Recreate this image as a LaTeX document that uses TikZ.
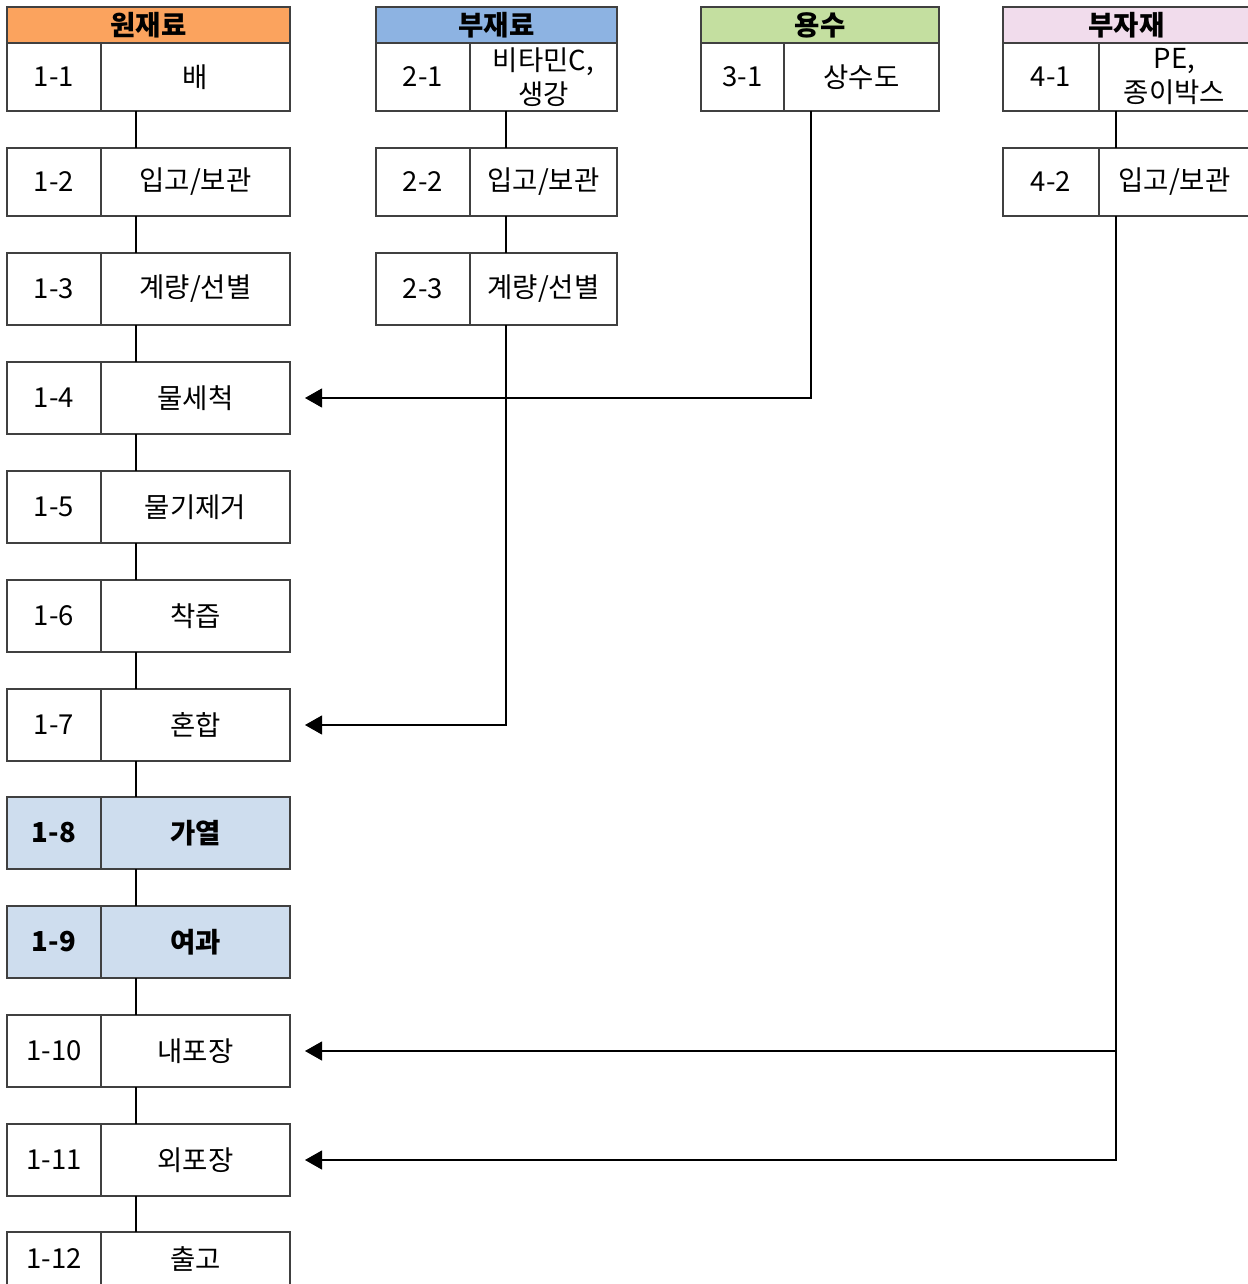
\documentclass[tikz,border=0pt]{standalone}
\usepackage{fontspec}
\setmainfont{Noto Sans CJK KR}
\usetikzlibrary{arrows.meta}
\definecolor{rawcol}{HTML}{FBA35E}
\definecolor{subcol}{HTML}{8DB3E2}
\definecolor{watercol}{HTML}{C4DFA0}
\definecolor{packcol}{HTML}{F1DCEC}
\definecolor{heatcol}{HTML}{CEDDEE}
\tikzset{
  cell/.style={draw=black!75, line width=1.2pt, inner sep=0pt, outer sep=0pt,
    anchor=north west, align=center, font=\fontsize{27.5}{34}\selectfont},
  head/.style={cell, font=\fontsize{27.5}{34}\selectfont\bfseries, minimum height=36pt},
  link/.style={line width=1.1pt},
  feed/.style={link, -{Triangle[width=19pt,length=17pt]}}
}
\begin{document}
\begin{tikzpicture}[x=1pt,y=-1pt]
    \useasboundingbox (0,0) rectangle (1247,1284);
    % Column headers
    \node[head, fill=rawcol, minimum width=283pt] (h1) at (7,7) {원재료};
    \node[head, fill=subcol, minimum width=241pt] (h2) at (376,7) {부재료};
    \node[head, fill=watercol, minimum width=238pt] (h3) at (701,7) {용수};
    \node[head, fill=packcol, minimum width=247pt] (h4) at (1003,7) {부자재};
    % Main process line
    \foreach \i/\rowy/\rowh/\txt/\f/\w in {1/43/68/배/white/\mdseries,
            2/148/68/{입고/보관}/white/\mdseries, 3/253/72/{계량/선별}/white/\mdseries,
            4/362/72/물세척/white/\mdseries, 5/471/72/물기제거/white/\mdseries,
            6/580/72/착즙/white/\mdseries, 7/689/72/혼합/white/\mdseries,
            8/797/72/가열/heatcol/\bfseries, 9/906/72/여과/heatcol/\bfseries,
            10/1015/72/내포장/white/\mdseries, 11/1124/72/외포장/white/\mdseries,
            12/1232/54/출고/white/\mdseries} {
            \node[cell, fill=\f, font={\fontsize{27.5}{34}\selectfont\w}, minimum width=94pt, minimum height=\rowh pt] (s1n\i) at (7,\rowy) {1-\i};
            \node[cell, fill=\f, font={\fontsize{27.5}{34}\selectfont\w}, minimum width=189pt, minimum height=\rowh pt] (s1t\i) at (101,\rowy) {\txt};
        }
    % Sub materials
    \foreach \i/\rowy/\rowh/\txt in {1/43/68/{비타민C,\\생강}, 2/148/68/{입고/보관}, 3/253/72/{계량/선별}} {
            \node[cell, minimum width=94pt, minimum height=\rowh pt] (s2n\i) at (376,\rowy) {2-\i};
            \node[cell, minimum width=147pt, minimum height=\rowh pt] (s2t\i) at (470,\rowy) {\txt};
        }
    % Water
    \node[cell, minimum width=83pt, minimum height=68pt] (s3n1) at (701,43) {3-1};
    \node[cell, minimum width=155pt, minimum height=68pt] (s3t1) at (784,43) {상수도};
    % Packing materials
    \foreach \i/\rowy/\txt in {1/43/{PE,\\종이박스}, 2/148/{입고/보관}} {
            \node[cell, minimum width=96pt, minimum height=68pt] (s4n\i) at (1003,\rowy) {4-\i};
            \node[cell, minimum width=151pt, minimum height=68pt] (s4t\i) at (1099,\rowy) {\txt};
        }
    % Draw the flow lines
    \foreach \i [evaluate=\i as \j using int(\i+1)] in {1,...,11} {
            \draw[link] ([xshift=35pt]s1t\i.south west) -- ([xshift=35pt]s1t\j.north west);
        }
    \foreach \i [evaluate=\i as \j using int(\i+1)] in {1,2} {
            \draw[link] ([xshift=36pt]s2t\i.south west) -- ([xshift=36pt]s2t\j.north west);
        }
    \draw[link] ([xshift=17pt]s4t1.south west) -- ([xshift=17pt]s4t2.north west);
    % Feeds into the main line
    \draw[feed] ([xshift=27pt]s3t1.south west) |- ([xshift=15pt]s1t4.east);
    \draw[feed] ([xshift=36pt]s2t3.south west) |- ([xshift=15pt]s1t7.east);
    \coordinate (tap) at ([xshift=17pt]s4t2.south west);
    \draw[feed] (tap) |- ([xshift=15pt]s1t11.east);
    \draw[feed] (tap |- s1t10.east) -- ([xshift=15pt]s1t10.east);
\end{tikzpicture}
\end{document}
